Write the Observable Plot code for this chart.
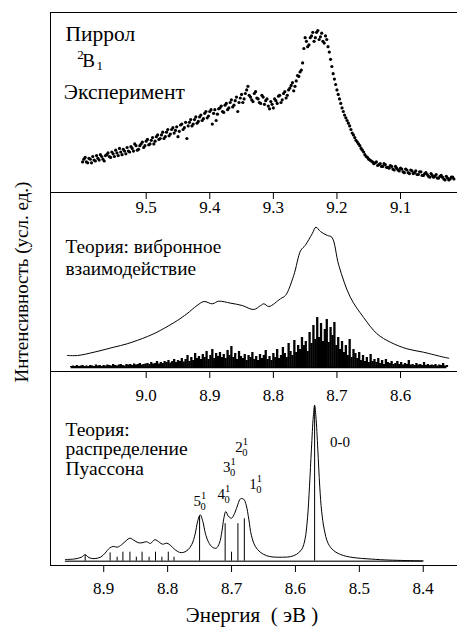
<!DOCTYPE html>
<html><head><meta charset="utf-8">
<script src="https://cdn.jsdelivr.net/npm/d3@7"></script>
<script src="https://cdn.jsdelivr.net/npm/@observablehq/plot@0.6"></script>
<style>
html,body{margin:0;padding:0;background:#fff;}
#chart{position:relative;width:457px;height:630px;overflow:hidden;background:#fff;}
#chart svg{position:absolute;left:0;}
</style></head><body><div id="chart"></div>
<script>
// ---------- Panel 1: experiment (two interleaved sweeps) ----------
const expStart = 9.600, expStep = 0.004;
const expI = [17,19.5,16.5,18.5,20,17.5,19,21,18.5,20.5,
22,19.5,21.5,23.5,20.5,22.5,24,21.5,23,25.5,
23,26,24,27,25,28.5,26.5,29,27,31,
29.5,32,30,33.5,31.5,35,33,36.5,34,38,
36,30,39,37,40.5,38.5,42,40,44,41.5,
45,38,46,43.5,47,45,48.5,46,50,47.5,
51,45,52.5,50,55,59,53,50.5,56,52,
49.5,53,51,48,50.5,47,51,53.5,50,55,
52.5,57,59.5,56.5,62,64.5,68,80,84,82,
87,84,89,85,88.5,83,85,78,70,63,
57,52,47,43,40,37,33,30.5,28,26,
23.5,21,19.5,18,17,16.5,15,16,14.5,15.5,
14,15,13,14.5,12.5,13.5,11.5,13,11,12.5,
10.5,12,10,11.5,9.5,11,9,10.5,8.5,10,
8,9.5,7.5,9,7,8.5,7.5];
const exp2Start = 9.598;
const expI2 = [18.5,17,19,16.5,18,20.5,18,20,17.5,21,
20,22.5,20,22,24.5,21,23,25,22.5,24.5,
27,23.5,26,28,26,29.5,27,30.5,28.5,32,
30,33.5,31,35,32.5,36,34.5,31,37.5,35,
39,37,40.5,38,42,39.5,43,41,45,42.5,
46,44,40,46.5,48,44.5,49.5,47,51.5,48.5,
53,50,54.5,52,57,54,51.5,55,52.5,50,
54,49,52,46.5,49,52,49.5,54,51.5,56,
54,58,61,59,65,67,72,86,81,86,
89,86,90,86.5,84,87,81,74,66,60,
54.5,49.5,45,41.5,38.5,35,32,29,27,24.5,
22.5,20,18.5,17.5,16,17,15.5,14.5,16,14,
13.5,14.5,12.5,13.5,12,13,11,12.5,10.5,12,
11,10,11.5,9.5,10.5,10,8.5,9.5,9,8,
9,8.5,7,8,7.5,8.5];
const ticks1 = [9.5, 9.4, 9.3, 9.2, 9.1];
const xDom1 = [9.6505, 9.0104];
const yDom1 = [0, 100];

// ---------- Panel 2: vibronic theory ----------
const env2E = [9.124,9.108,9.082,9.051,9.030,8.998,8.978,8.951,8.936,8.920,8.909,8.896,8.886,8.867,8.849,8.831,8.820,8.815,8.807,8.789,8.781,8.768,8.757,8.750,8.739,8.733,8.726,8.715,8.708,8.697,8.679,8.658,8.637,8.616,8.590,8.564,8.532,8.524];
const env2I = [12,12,15.3,20.3,23.7,31,37,47,53.7,62,66,63.7,66.3,64.3,62,58,62,63.7,61,68.7,72,92,117,122,133.7,140.3,136,132,130.3,102,70.3,50,33.7,25.3,18.7,15.3,10.3,9.3];
const stick2Start = 9.118, stick2Step = 0.003;
const stick2H = [1,1.5,1,2,1,1.5,2,1,1.5,1,
2,1.5,1,2.5,1.5,2,1,2,1.5,2.5,
2,1.5,3,2,1.5,2.5,3,2,1.5,3,
2.5,3,2,3.5,2.5,3,4,2.5,3,3.5,
4,3,5,3.5,4,6,3.5,5,4,6,
5,7,4.5,6,8,5,7,6,9,5.5,
8,12,6,10,7,14,9,11,8,13,
10,16,8,12,18,9,14,11,15,10,
13,9,17,12,21,10,14,8,16,11,
9,13,7,12,10,15,8,11,7,13,
9,12,17,8,11,7,14,10,18,9,
12,20,14,10,24,16,12,27,15,22,
18,30,22,26,16,35,24,42,28,50,
30,44,26,38,48,25,40,32,45,22,
30,18,26,15,22,12,28,10,18,14,
9,15,7,12,6,10,5,13,6,8,
5,9,4,7,3,8,5,4,6,3,
4,6,3,5,2.5,4,3,7,2.5,3,
2,4,2.5,3,2,5,2,3,2,2.5,
2,3,1.5,2.5,2,4,1.5,2];
const ticks2 = [9.0, 8.9, 8.8, 8.7, 8.6];
const xDom2 = [9.1505, 8.5104];
const yDom2 = [-4, 175];

// ---------- Panel 3: Poisson distribution ----------
const cur3E = [8.960,8.945,8.935,8.929,8.923,8.915,8.905,8.898,8.891,8.885,8.879,8.872,8.865,8.859,8.853,8.846,8.840,8.833,8.827,8.820,8.813,8.808,8.801,8.795,8.789,8.781,8.775,8.768,8.762,8.757,8.753,8.749,8.745,8.741,8.736,8.730,8.724,8.719,8.715,8.712,8.709,8.705,8.700,8.695,8.690,8.686,8.681,8.677,8.673,8.669,8.663,8.655,8.645,8.635,8.620,8.608,8.598,8.590,8.585,8.581,8.578,8.575,8.572,8.570,8.568,8.565,8.562,8.559,8.555,8.549,8.540,8.525,8.505,8.488,8.460,8.436,8.400];
const cur3I = [1.7,2.3,4.0,6.5,3.5,2.6,4.0,8.0,13.0,14.8,14.0,16.5,20.5,23.0,21.0,18.5,18.4,19.5,17.8,21.5,19.0,17.0,18.0,15.5,11.8,8.8,8.8,11.5,17.0,27.0,40.0,46.4,40.0,28.0,19.0,14.0,13.0,18.0,30.0,43.0,49.7,45.0,43.0,48.0,57.0,62.4,62.0,56.0,42.0,26.0,15.0,9.0,5.5,4.2,4.0,4.5,7.0,12.0,22.0,44.0,75.0,112.0,145.0,155.7,145.0,112.0,75.0,50.0,32.0,18.0,10.5,5.7,3.3,2.4,1.3,0.8,0.3];
const stick3E = [8.929,8.890,8.879,8.870,8.859,8.849,8.840,8.829,8.819,8.809,8.799,8.790,8.750,8.710,8.700,8.690,8.680,8.570];
const stick3H = [6,8.3,4,9,9,4,9,4,9,4,9,4,45,37.5,9,37.5,42.4,155.7];
const ticks3 = [8.9, 8.8, 8.7, 8.6, 8.5, 8.4];
const xDom3 = [8.9833, 8.3464];
const yDom3 = [-4.3, 189.7];
const vibMain = ["5","4","3","2","1"];
const vibE = [8.7594, 8.7219, 8.7134, 8.6942, 8.6723];
const vibI = [55.7, 62.4, 89, 109, 72.7];
const vibSup = ["1","1","1","1","1"];
const vibSub = ["0","0","0","0","0"];

// ---------- Texts ----------
const t1 = [{t:"Пиррол", e:9.6269, i:84.1}, {t:"Эксперимент", e:9.6296, i:52.1}];
const t1B = [{t:"B", e:9.6006, i:69.6}];
const t1small = [{t:"2", e:9.6085, i:73.9}, {t:"1", e:9.5781, i:67.8}];
const t2 = [{t:"Теория: вибронное\nвзаимодействие", e:9.1269, i:93}];
const t3 = [{t:"Теория:\nраспределение\nПуассона", e:8.9598, i:86.7}];
const t3zero = [{t:"0-0", e:8.5458, i:114}];
const yTitle = "Интенсивность (усл. ед.)";
const xTitle = "Энергия\u00a0\u00a0(\u00a0эВ\u00a0)";

// ---------- Build ----------
const W = 457;
const font = "'Liberation Serif', 'Times New Roman', Times, serif";
const fmt = d3.format(".1f");
const base = {width: W, marginLeft: 50, marginRight: 0,
  style: {fontFamily: font, fontSize: "17px", background: "transparent", color: "black", overflow: "visible"}};
const exp = expI.map((v, k) => ({e: expStart - k * expStep, i: v}))
  .concat(expI2.map((v, k) => ({e: exp2Start - k * expStep, i: v})));
const env2 = env2E.map((e, k) => ({e, i: env2I[k]}));
const st2 = stick2H.map((h, k) => ({e: stick2Start - k * stick2Step, h}));
const cur3 = cur3E.map((e, k) => ({e, i: cur3I[k]}));
const st3 = stick3E.map((e, k) => ({e, h: stick3H[k]}));
const vib = vibMain.map((m, k) => ({m, e: vibE[k], i: vibI[k], sup: vibSup[k], sub: vibSub[k]}));
const txt = (data, o) => Plot.text(data, {x: "e", y: "i", text: "t", textAnchor: "start", lineAnchor: "bottom", ...o});

const p1 = Plot.plot({...base, height: 222, marginTop: 12, marginBottom: 30,
  x: {domain: xDom1}, y: {domain: yDom1, axis: null},
  marks: [
    Plot.dot(exp, {x: "e", y: "i", r: 1.6, fill: "black", stroke: null}),
    Plot.ruleY([yDom1[1]], {stroke: "black"}),
    Plot.ruleY([yDom1[0]], {stroke: "black"}),
    Plot.ruleX([xDom1[0]], {stroke: "black"}),
    Plot.axisX({ticks: ticks1, tickSize: 7, tickPadding: 1, tickFormat: fmt, label: null}),
    txt(t1, {fontSize: 21.5}),
    txt(t1B, {fontSize: 19}),
    txt(t1small, {fontSize: 13})
  ]});
p1.style.top = "0px";

const p2 = Plot.plot({...base, height: 209, marginTop: 0, marginBottom: 30,
  x: {domain: xDom2}, y: {domain: yDom2, axis: null},
  marks: [
    Plot.ruleX(st2, {x: "e", y1: 0, y2: "h", stroke: "black", strokeWidth: 2.3}),
    Plot.ruleY([0], {x1: st2[0].e, x2: st2[st2.length - 1].e, stroke: "black", strokeWidth: 1.5}),
    Plot.line(env2, {x: "e", y: "i", curve: "catmull-rom", stroke: "black", strokeWidth: 1}),
    Plot.ruleY([yDom2[0]], {stroke: "black"}),
    Plot.ruleX([xDom2[0]], {stroke: "black"}),
    Plot.axisX({ticks: ticks2, tickSize: 7, tickPadding: 10, tickFormat: fmt, label: null}),
    txt(t2, {fontSize: 19.3, lineHeight: 1.1}),
    Plot.text([yTitle], {text: d => d, frameAnchor: "left", dx: -29, rotate: -90, textAnchor: "middle", lineAnchor: "middle", fontSize: 19})
  ]});
p2.style.top = "192px";

const p3 = Plot.plot({...base, height: 259, marginTop: 0, marginBottom: 65,
  x: {domain: xDom3}, y: {domain: yDom3, axis: null},
  marks: [
    Plot.ruleY([0], {x1: cur3E[0], x2: cur3E[cur3E.length - 1], stroke: "#444", strokeWidth: 1.5}),
    Plot.ruleX(st3, {x: "e", y1: 0, y2: "h", stroke: "black", strokeWidth: 1}),
    Plot.line(cur3, {x: "e", y: "i", curve: "catmull-rom", stroke: "black", strokeWidth: 1}),
    Plot.ruleY([yDom3[0]], {stroke: "black"}),
    Plot.ruleX([xDom3[0]], {stroke: "black"}),
    Plot.axisX({ticks: ticks3, tickSize: 7, tickPadding: 9, tickFormat: fmt, label: null}),
    txt(t3, {fontSize: 19.5, lineHeight: 0.98}),
    txt(t3zero, {fontSize: 15}),
    Plot.text(vib, {x: "e", y: "i", text: "m", textAnchor: "start", lineAnchor: "bottom", fontSize: 15}),
    Plot.text(vib, {x: "e", y: "i", text: "sup", textAnchor: "start", lineAnchor: "bottom", fontSize: 10.5, dx: 7.5, dy: -7}),
    Plot.text(vib, {x: "e", y: "i", text: "sub", textAnchor: "start", lineAnchor: "bottom", fontSize: 10.5, dx: 7, dy: 4}),
    Plot.text([xTitle], {text: d => d, frameAnchor: "bottom", dx: -2, dy: 56, lineAnchor: "bottom", fontSize: 21})
  ]});
p3.style.top = "371px";

const chart = document.getElementById("chart");
chart.append(p1, p2, p3);
</script></body></html>
